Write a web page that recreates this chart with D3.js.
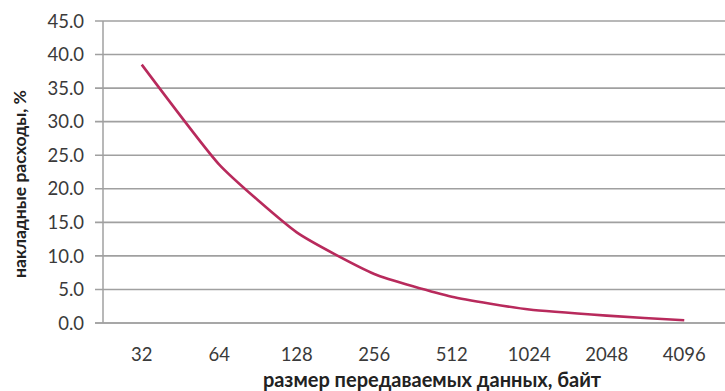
<!DOCTYPE html>
<html><head><meta charset="utf-8">
<script src="https://cdn.jsdelivr.net/npm/d3@7"></script>
<style>body{margin:0;background:#fff}svg{display:block}</style>
</head><body>
<script>
const categories = ["32","64","128","256","512","1024","2048","4096"];
const overhead = [38.5, 23.6, 13.5, 7.3, 3.9, 2.0, 1.1, 0.4];
const yTicks = [0,5,10,15,20,25,30,35,40,45];
const yTitle = "накладные расходы, %";
const xTitle = "размер передаваемых данных, байт";

const W = 725, H = 391;
const m = {left:103, right:2, top:21, bottom:68};
const svg = d3.select("body").append("svg").attr("width",W).attr("height",H);
const x = d3.scaleBand().domain(categories).range([m.left, W-m.right]);
const y = d3.scaleLinear().domain([0,45]).range([H-m.bottom, m.top]);
const font = "Lato, 'Open Sans', sans-serif";

// gridlines
svg.append("g").selectAll("line").data(yTicks).join("line")
  .attr("x1", m.left-8).attr("x2", W)
  .attr("y1", d=>y(d)).attr("y2", d=>y(d))
  .attr("stroke", d=> d===0 ? "#8a8a8a" : "#a0a0a0").attr("stroke-width", 1.6);
// y axis line
svg.append("line").attr("x1",m.left).attr("x2",m.left)
  .attr("y1",y(45)).attr("y2",y(0)).attr("stroke","#a0a0a0").attr("stroke-width",1.5);

// y tick labels
svg.append("g").selectAll("text").data(yTicks).join("text")
  .attr("x", 84).attr("y", d=>y(d)).attr("dy","0.36em")
  .attr("text-anchor","end").attr("font-family",font).attr("font-size",18.5)
  .attr("fill","#3a3a3a").text(d=>d.toFixed(1));

// x tick labels
svg.append("g").selectAll("text").data(categories).join("text")
  .attr("x", d=>x(d)+x.bandwidth()/2).attr("y", 361)
  .attr("text-anchor","middle").attr("font-family",font).attr("font-size",18.5)
  .attr("fill","#3a3a3a").text(d=>d);

// line
const line = d3.line().x((d,i)=>x(categories[i])+x.bandwidth()/2).y(d=>y(d)).curve(d3.curveCardinal.tension(0.5));
svg.append("path").datum(overhead).attr("d",line)
  .attr("fill","none").attr("stroke","#b82a5c").attr("stroke-width",2.6);

// titles
svg.append("text").attr("transform",`translate(20,184) rotate(-90)`)
  .attr("text-anchor","middle").attr("dy","0.35em").attr("font-family",font).attr("font-weight","bold")
  .attr("font-size",17.5).attr("fill","#222").text(yTitle);
svg.append("text").attr("x",432).attr("y",380).attr("dy","0.35em")
  .attr("text-anchor","middle").attr("font-family",font).attr("font-weight","bold")
  .attr("font-size",20).attr("fill","#222").text(xTitle);
</script>
</body></html>
